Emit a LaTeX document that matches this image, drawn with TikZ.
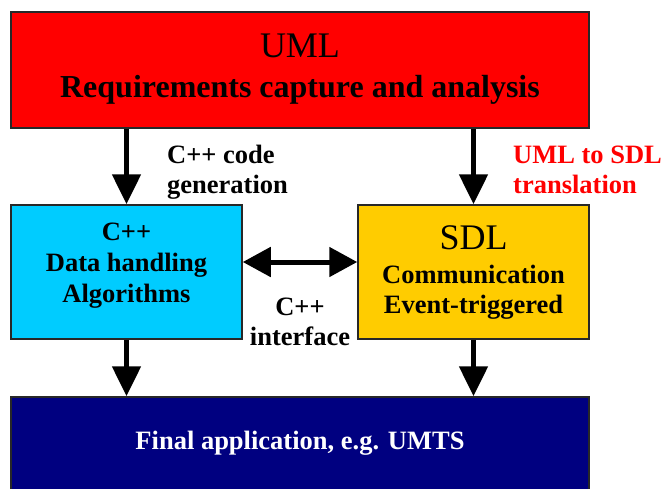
\documentclass[tikz,border=0pt]{standalone}
\usepackage{fontspec}
\setmainfont{Liberation Serif}
\usetikzlibrary{arrows.meta}

\definecolor{umlred}{RGB}{255,0,0}
\definecolor{cppcyan}{RGB}{0,204,255}
\definecolor{sdlgold}{RGB}{255,204,0}
\definecolor{appnavy}{RGB}{0,0,128}
\definecolor{edgegray}{RGB}{40,40,40}

\newcommand{\bigfont}{\fontsize{36}{40}\selectfont}
\newcommand{\midfont}{\bfseries\fontsize{32}{40}\selectfont}
\newcommand{\smallfont}{\bfseries\fontsize{26.5}{30}\selectfont}

\begin{document}
\begin{tikzpicture}[x=1pt,y=-1pt,
  box/.style={draw=edgegray, line width=1.5pt, inner sep=0pt, align=center},
  flow/.style={line width=5pt, -{Triangle[length=30pt,width=28pt]}},
  both/.style={line width=5pt, {Triangle[length=28pt,width=29pt]}-{Triangle[length=28pt,width=29pt]}},
  lbl/.style={inner sep=0pt, font=\smallfont}]
\useasboundingbox (0,0) rectangle (663,488);

% boxes (text height/depth place the last baseline inside each box)
\node[box, fill=umlred, minimum width=578pt, minimum height=116pt,
      font=\fontsize{32}{40}\selectfont, text height=64pt, text depth=10pt] (uml) at (300,70)
  {{\bigfont UML}\\{\midfont Requirements capture and analysis}};
\node[box, fill=cppcyan, minimum width=231pt, minimum height=134pt,
      font=\bfseries\fontsize{26.5}{31}\selectfont, text height=70pt, text depth=10pt] (cpp) at (126.5,272)
  {C++\\Data handling\\Algorithms};
\node[box, fill=sdlgold, minimum width=231pt, minimum height=134pt,
      font=\bfseries\fontsize{26.5}{30}\selectfont, text height=92pt, text depth=10pt] (sdl) at (473.5,272)
  {{\mdseries\bigfont SDL}\\[4pt]Communication\\Event-triggered};
\node[box, fill=appnavy, text=white, minimum width=578pt, minimum height=94pt,
      font=\smallfont, text height=20pt, text depth=10pt] (app) at (300,444)
  {Final application, e.g. UMTS};

% connectors
\draw[flow] (cpp.north |- uml.south) -- (cpp.north);
\draw[flow] (sdl.north |- uml.south) -- (sdl.north);
\draw[flow] (cpp.south) -- (cpp.south |- app.north);
\draw[flow] (sdl.south) -- (sdl.south |- app.north);
\coordinate (ify) at (300,262);
\draw[both] (cpp.east |- ify) -- (sdl.west |- ify);

% connector labels
\node[lbl, anchor=base west, align=left] (gen) at (167,193) {C++ code\\generation};
\node[lbl, anchor=base west, align=left, text=umlred] (trans) at (513,193) {UML to SDL\\translation};
\node[lbl, anchor=base, align=center] (iface) at (300,345) {C++\\interface};
\end{tikzpicture}
\end{document}
